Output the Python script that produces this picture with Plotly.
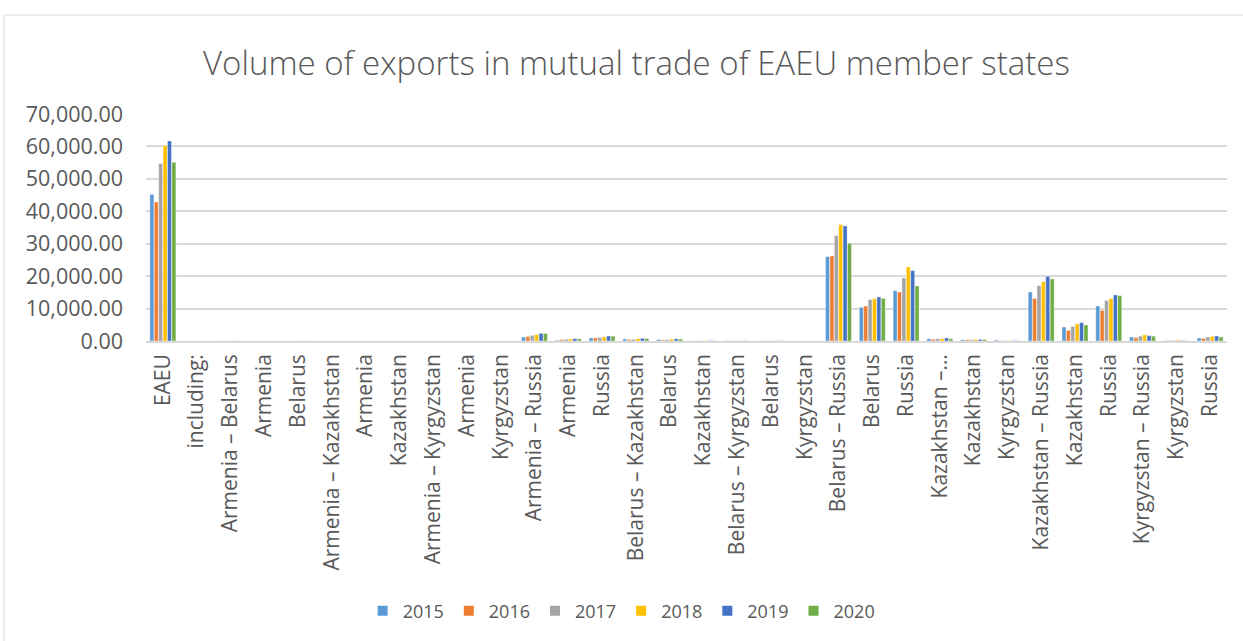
import plotly.graph_objects as go

categories = ["EAEU", "including:",
              "Armenia – Belarus", "Armenia", "Belarus",
              "Armenia – Kazakhstan", "Armenia", "Kazakhstan",
              "Armenia – Kyrgyzstan", "Armenia", "Kyrgyzstan",
              "Armenia – Russia", "Armenia", "Russia",
              "Belarus – Kazakhstan", "Belarus", "Kazakhstan",
              "Belarus – Kyrgyzstan", "Belarus", "Kyrgyzstan",
              "Belarus – Russia", "Belarus", "Russia",
              "Kazakhstan –…", "Kazakhstan", "Kyrgyzstan",
              "Kazakhstan – Russia", "Kazakhstan", "Russia",
              "Kyrgyzstan – Russia", "Kyrgyzstan", "Russia"]

years = ["2015", "2016", "2017", "2018", "2019", "2020"]

v2015 = [45240, None, 45, 10, 35, 10, 3, 7, 1, 0.5, 0.5, 1200, 240, 950,
         650, 480, 70, 90, 80, 10, 26020, 10370, 15520, 700, 400, 320,
         15120, 4320, 10800, 1230, 120, 930]
v2016 = [42860, None, 40, 8, 32, 8, 3, 5, 1, 0.5, 0.5, 1400, 370, 950,
         400, 320, 50, 70, 60, 10, 26230, 10800, 15120, 500, 380, 130,
         13060, 3270, 9440, 1030, 130, 820]
v2017 = [54700, None, 50, 10, 40, 12, 4, 8, 2, 1, 1, 1750, 540, 1100,
         520, 420, 90, 90, 80, 10, 32500, 12750, 19440, 700, 400, 140,
         17070, 4510, 12440, 1490, 180, 1240]
v2018 = [60260, None, 60, 12, 48, 14, 4, 10, 2, 1, 1, 2000, 670, 1300,
         750, 580, 110, 100, 90, 10, 35900, 13060, 22840, 720, 450, 140,
         18300, 5240, 13060, 1900, 320, 1440]
v2019 = [61700, None, 60, 12, 48, 15, 5, 10, 2, 1, 1, 2350, 730, 1550,
         850, 680, 120, 110, 100, 10, 35490, 13580, 21700, 950, 480, 130,
         19940, 5650, 14200, 1650, 150, 1550]
v2020 = [55100, None, 50, 10, 40, 14, 5, 9, 2, 1, 1, 2300, 690, 1500,
         800, 600, 130, 100, 90, 10, 30120, 13150, 16970, 700, 450, 120,
         19130, 4940, 13980, 1490, 140, 1240]

y_ticks = [0, 10000, 20000, 30000, 40000, 50000, 60000, 70000]

series = [v2015, v2016, v2017, v2018, v2019, v2020]
colors = ["#5B9BD5", "#ED7D31", "#A5A5A5", "#FFC000", "#4472C4", "#70AD47"]

positions = list(range(len(categories)))

fig = go.Figure()
for name, vals, col in zip(years, series, colors):
    fig.add_trace(go.Bar(x=positions, y=vals, name=name,
                         marker=dict(color=col, line=dict(color="white", width=0.4))))

font_family = "Open Sans, Noto Sans, sans-serif"
grey = "#595959"

fig.update_layout(
    width=1243, height=641,
    margin=dict(l=146, r=16, t=114, b=300),
    paper_bgcolor="white", plot_bgcolor="white",
    barmode="group", bargap=0.22, bargroupgap=0.08,
    title=dict(text="Volume of exports in mutual trade of EAEU member states",
               x=0.512, xanchor="center", y=1 - 63 / 641, yanchor="middle",
               yref="container",
               font=dict(family=font_family, size=33, color=grey, weight=300)),
    font=dict(family=font_family, color=grey),
    legend=dict(orientation="h", x=0.44, xanchor="center", y=-1.19, yanchor="middle",
                font=dict(size=18, color=grey), traceorder="normal",
                itemwidth=30, itemsizing="constant"),
    xaxis=dict(range=[-0.5, len(categories) - 0.5], tickmode="array",
               tickvals=positions, ticktext=categories, tickangle=-90,
               tickfont=dict(size=21, color=grey), showgrid=False,
               showline=True, linecolor="#d9d9d9", linewidth=1.5, ticks="",
               zeroline=False, ticklabelstandoff=3),
    yaxis=dict(range=[0, 70000], tickmode="array", tickvals=y_ticks,
               tickformat=",.2f", tickfont=dict(size=21.5, color=grey),
               showgrid=True, gridcolor="#d9d9d9", gridwidth=1.5,
               zeroline=False, showline=False, ticklabelstandoff=22),
    shapes=[dict(type="rect", xref="paper", yref="paper",
                 x0=(4 - 146) / 1081, x1=(1250 - 146) / 1081,
                 y0=(341 - 650) / 227, y1=(341 - 15) / 227,
                 line=dict(color="#d9d9d9", width=1), fillcolor="rgba(0,0,0,0)",
                 layer="below")],
)

fig.write_html("out.html", config={"displayModeBar": False},
               post_script="document.body.style.margin='0';document.body.style.padding='0';")
